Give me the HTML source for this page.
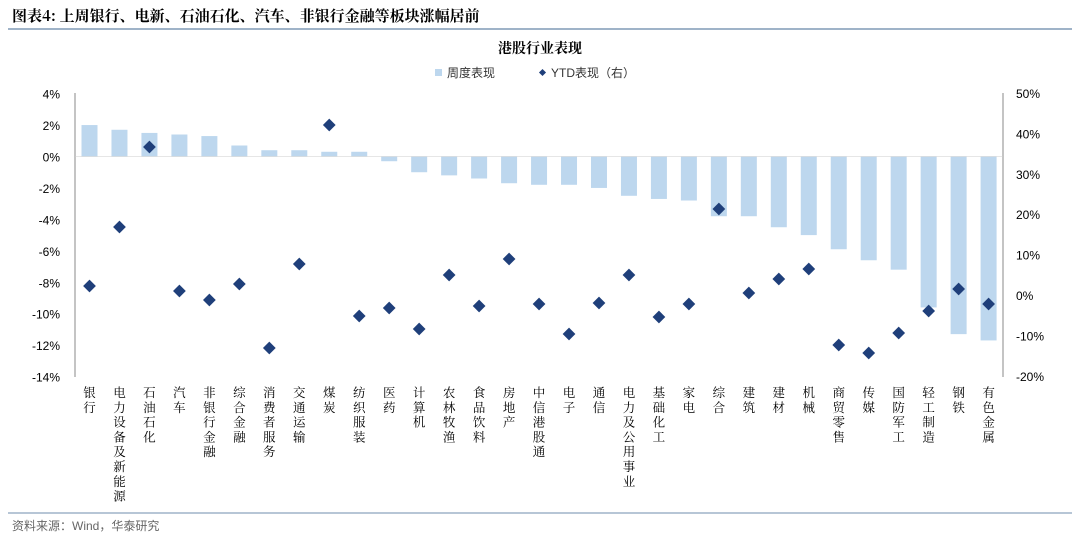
<!DOCTYPE html>
<html><head><meta charset="utf-8"><style>
body{margin:0;width:1080px;height:539px;background:#fff;overflow:hidden;font-family:"Liberation Sans","Noto Sans CJK SC",sans-serif;}
</style></head><body>
<svg id="s" width="1080" height="539" xmlns="http://www.w3.org/2000/svg" font-family="Liberation Sans, Noto Sans CJK SC, sans-serif">
<text x="12" y="21" font-size="15" font-weight="bold" fill="#000" font-family="Noto Serif CJK SC, serif">图表4:  上周银行、电新、石油石化、汽车、非银行金融等板块涨幅居前</text>
<line x1="8" y1="29" x2="1072" y2="29" stroke="#9fb3c8" stroke-width="2"/>
<text x="540" y="53" font-size="14" font-weight="bold" text-anchor="middle" font-family="Noto Serif CJK SC, serif">港股行业表现</text>
<rect x="435" y="69" width="7" height="7" fill="#bdd7ee"/>
<text x="447" y="77" font-size="12" fill="#333">周度表现</text>
<rect x="540" y="70" width="5" height="5" fill="#1f3f7a" transform="rotate(45 542.5 72.5)"/>
<text x="551" y="77" font-size="12" fill="#333">YTD表现（右）</text>
<line x1="8" y1="513" x2="1072" y2="513" stroke="#9fb3c8" stroke-width="1.5"/>
<text x="12" y="530" font-size="12" fill="#666">资料来源：Wind，华泰研究</text>
<g id="g"></g>
</svg>
<script>
var names=["银行","电力设备及新能源","石油石化","汽车","非银行金融","综合金融","消费者服务","交通运输","煤炭","纺织服装","医药","计算机","农林牧渔","食品饮料","房地产","中信港股通","电子","通信","电力及公用事业","基础化工","家电","综合","建筑","建材","机械","商贸零售","传媒","国防军工","轻工制造","钢铁","有色金属"];
var bars=[2.0,1.7,1.5,1.4,1.3,0.7,0.4,0.4,0.3,0.3,-0.3,-1.0,-1.2,-1.4,-1.7,-1.8,-1.8,-2.0,-2.5,-2.7,-2.8,-3.8,-3.8,-4.5,-5.0,-5.9,-6.6,-7.2,-9.6,-11.3,-11.7];
var ytd=[286,227,147,291,300,284,348,264,125,316,308,329,275,306,259,304,334,303,275,317,304,209,293,279,269,345,353,333,311,289,304];
var h='';var y0=156.5,k=15.72;
for(var i=4;i>=-14;i-=2){var y=y0-i*k;h+='<text x="60" y="'+(y+5)+'" font-size="12" text-anchor="end">'+i+'%</text>';}
for(var v=50;v>=-20;v-=10){var y=295-v*4.04;h+='<text x="1016" y="'+(y+5)+'" font-size="12">'+v+'%</text>';}
h+='<line x1="75" y1="93" x2="75" y2="377" stroke="#888"/><line x1="1003" y1="93" x2="1003" y2="377" stroke="#888"/>';
for(var i=0;i<31;i++){var cx=89.5+i*29.97;var b=bars[i];var yt=b>0?y0-b*k:y0;var hh=Math.abs(b)*k;
h+='<rect x="'+(cx-8)+'" y="'+yt+'" width="16" height="'+hh+'" fill="#bdd7ee"/>';
h+='<rect x="'+(cx-4.5)+'" y="'+(ytd[i]-4.5)+'" width="9" height="9" fill="#1f3f7a" transform="rotate(45 '+cx+' '+ytd[i]+')"/>';
var n=names[i];for(var j=0;j<n.length;j++){h+='<text x="'+cx+'" y="'+(397+j*14.8)+'" font-size="12.5" text-anchor="middle" font-family="Noto Serif CJK SC, serif">'+n[j]+'</text>';}}
h+='<line x1="75" y1="'+y0+'" x2="1003" y2="'+y0+'" stroke="#ccc" stroke-width="0.5"/>';
document.getElementById('g').innerHTML=h;
</script>
</body></html>
